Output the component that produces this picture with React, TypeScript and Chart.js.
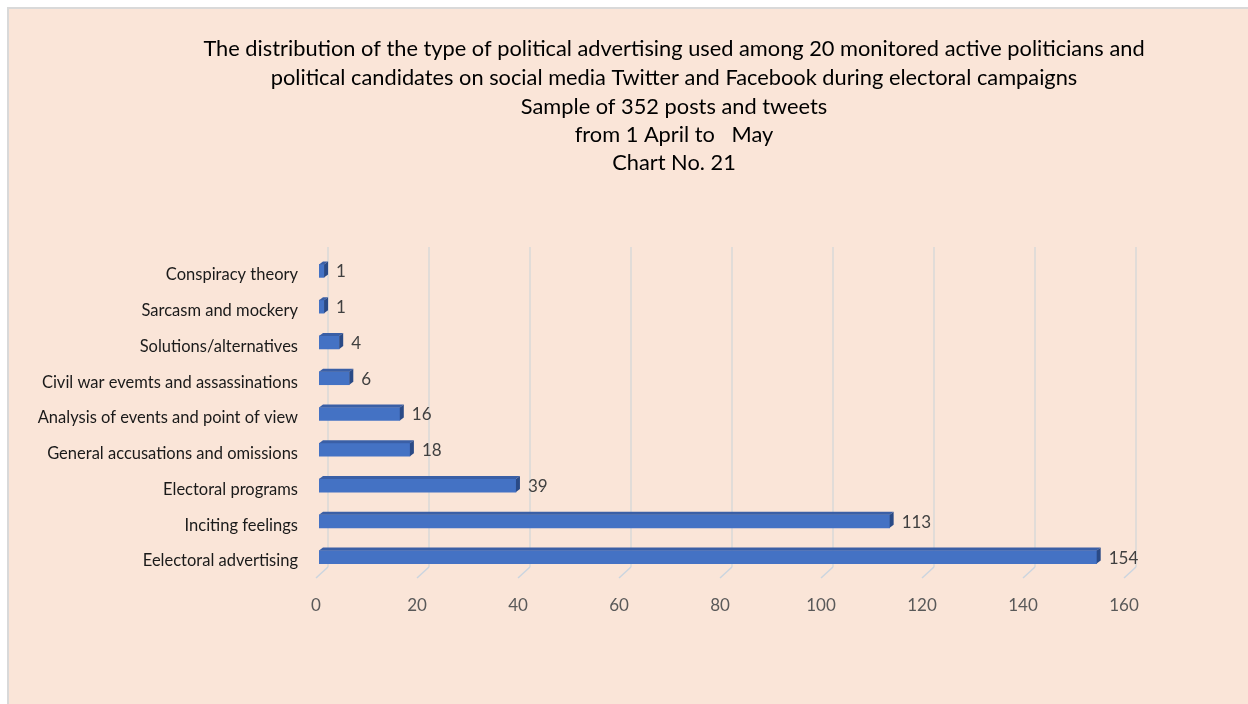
import React, { useEffect, useRef } from "react";
import { Chart, registerables } from "chart.js";

Chart.register(...registerables);

const titleLines = [
  "The distribution of the type of political advertising used among 20 monitored active politicians and",
  "political candidates on social media Twitter and Facebook during electoral campaigns",
  "Sample of 352 posts and tweets",
  "from 1 April to   May",
  "Chart No. 21",
];

const categories = [
  "Conspiracy theory",
  "Sarcasm and mockery",
  "Solutions/alternatives",
  "Civil war evemts and assassinations",
  "Analysis of events and point of view",
  "General accusations and omissions",
  "Electoral programs",
  "Inciting feelings",
  "Eelectoral advertising",
];

const values = [1, 1, 4, 6, 16, 18, 39, 113, 154];

const xMin = 0;
const xMax = 160;
const xStep = 20;

const FONT = "Lato, 'Open Sans', sans-serif";

export default function App() {
  const ref = useRef<HTMLCanvasElement | null>(null);

  useEffect(() => {
    const canvas = ref.current;
    if (!canvas) return;

    const titlePlugin = {
      id: "titleLines",
      afterDraw(chart: any) {
        const ctx = chart.ctx;
        ctx.save();
        ctx.fillStyle = "#000000";
        ctx.font = `21.8px ${FONT}`;
        ctx.textAlign = "center";
        ctx.textBaseline = "middle";
        const ys = [49, 78, 107, 135, 163];
        titleLines.forEach((t, i) => ctx.fillText(t, 674, ys[i]));
        ctx.restore();
      },
    };

    const gridPlugin = {
      id: "grid3d",
      beforeDatasetsDraw(chart: any) {
        const ctx = chart.ctx;
        const xs = chart.scales.x;
        const area = chart.chartArea;
        ctx.save();
        ctx.lineWidth = 1.5;
        for (let v = xMin; v <= xMax; v += xStep) {
          const px = Math.round(xs.getPixelForValue(v));
          ctx.strokeStyle = "#D9D9D9";
          ctx.beginPath();
          ctx.moveTo(px + 9, area.top - 6);
          ctx.lineTo(px + 9, area.bottom - 8);
          ctx.stroke();
          ctx.strokeStyle = "#CBD5DF";
          ctx.beginPath();
          ctx.moveTo(px + 9, area.bottom - 8);
          ctx.lineTo(px - 3, area.bottom + 3);
          ctx.stroke();
        }
        ctx.restore();
      },
    };

    const barPlugin = {
      id: "bars3d",
      afterDatasetsDraw(chart: any) {
        const ctx = chart.ctx;
        const meta = chart.getDatasetMeta(0);
        const d = 4;
        const dy = 3;
        ctx.save();
        meta.data.forEach((bar: any, i: number) => {
          const left = bar.base;
          const right = bar.x;
          const top = bar.y - bar.height / 2;
          const bottom = bar.y + bar.height / 2;
          ctx.fillStyle = "#3A5FA6";
          ctx.beginPath();
          ctx.moveTo(left, top);
          ctx.lineTo(left + d, top - dy);
          ctx.lineTo(right + d, top - dy);
          ctx.lineTo(right, top);
          ctx.closePath();
          ctx.fill();
          ctx.fillStyle = "#2A4A86";
          ctx.beginPath();
          ctx.moveTo(right, top);
          ctx.lineTo(right + d, top - dy);
          ctx.lineTo(right + d, bottom - dy);
          ctx.lineTo(right, bottom);
          ctx.closePath();
          ctx.fill();
          ctx.fillStyle = "#404040";
          ctx.font = `17px ${FONT}`;
          ctx.textAlign = "left";
          ctx.textBaseline = "middle";
          ctx.fillText(String(values[i]), right + d + 8, bar.y + 1);
        });
        ctx.restore();
      },
    };

    const chart = new Chart(canvas, {
      type: "bar",
      data: {
        labels: categories,
        datasets: [
          {
            data: values,
            backgroundColor: "#4472C4",
            borderWidth: 0,
            barThickness: 13,
          },
        ],
      },
      options: {
        indexAxis: "y",
        animation: false,
        responsive: false,
        maintainAspectRatio: false,
        layout: { padding: { left: 0, top: 253, right: 121, bottom: 0 } },
        plugins: {
          legend: { display: false },
          title: { display: false },
          tooltip: { enabled: false },
        },
        scales: {
          x: {
            min: xMin,
            max: xMax,
            ticks: {
              stepSize: xStep,
              color: "#595959",
              font: { family: FONT, size: 17 },
              padding: 20,
              labelOffset: -3,
            },
            grid: { display: false, drawTicks: false },
            border: { display: false },
            afterFit(scale: any) {
              scale.height = 129;
            },
          },
          y: {
            ticks: {
              color: "#1A1A1A",
              font: { family: FONT, size: 16.5 },
              padding: 21,
              labelOffset: 4,
            },
            grid: { display: false, drawTicks: false },
            border: { display: false },
            afterFit(scale: any) {
              scale.width = 319;
            },
          },
        },
      },
      plugins: [gridPlugin, barPlugin, titlePlugin],
    } as any);

    return () => chart.destroy();
  }, []);

  return (
    <div style={{ position: "fixed", inset: 0, background: "#FFFFFF", overflow: "hidden" }}>
      <div
        style={{
          position: "absolute",
          left: 7,
          top: 7,
          width: 1260,
          height: 720,
          background: "#FAE5D8",
          borderLeft: "2px solid #D9D9D9",
          borderTop: "2px solid #D9D9D9",
        }}
      />
      <canvas
        ref={ref}
        width={1248}
        height={704}
        style={{ position: "absolute", left: 0, top: 0, width: 1248, height: 704 }}
      />
    </div>
  );
}
